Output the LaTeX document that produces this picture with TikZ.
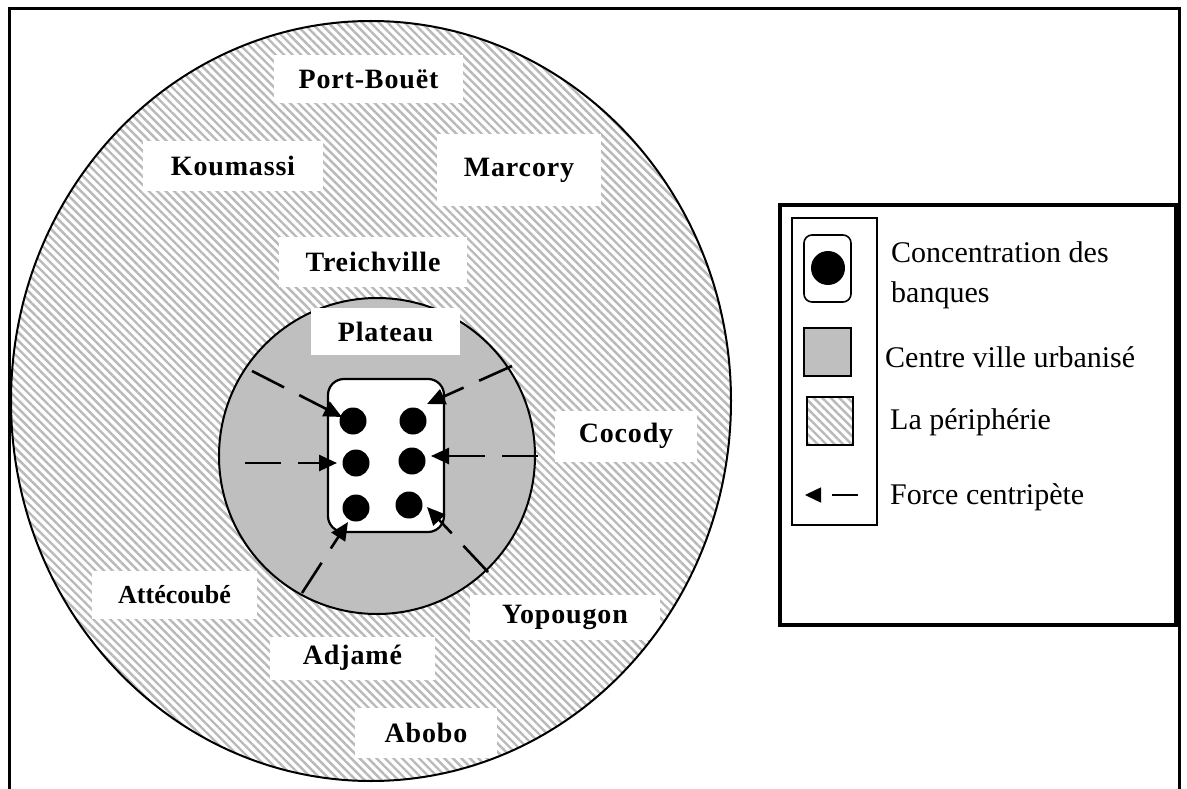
\documentclass[tikz,border=0pt]{standalone}
\usepackage{fontspec}
\setmainfont{Liberation Serif}
\usetikzlibrary{patterns.meta,arrows.meta}
\begin{document}
\begin{tikzpicture}[x=1pt,y=-1pt,
  hatch/.style={pattern={Lines[angle=-45,distance=6pt,line width=2.4pt]},pattern color=gray!55},
  lbl/.style={fill=white,inner sep=0pt,font=\bfseries\fontsize{28}{30}\selectfont\addfontfeature{LetterSpace=3}},
  lblc/.style={fill=white,inner sep=0pt,font=\bfseries\fontsize{26}{30}\selectfont},
  force/.style={line width=2.6pt,dash pattern=on 36pt off 17pt,-{Triangle[length=18pt,width=16pt]}},
  bank/.style={circle,fill=black,minimum size=27pt,inner sep=0pt},
  legtxt/.style={anchor=west,inner sep=0pt,align=left,font=\fontsize{30}{40}\selectfont}]
\useasboundingbox (0,0) rectangle (1187,789);
% outer frame
\draw[line width=3pt] (9,9) rectangle (1179,820);
% periphery
\path[hatch] (371,401) ellipse [x radius=360, y radius=380];
\begin{scope}
\clip (371,401) ellipse [x radius=360, y radius=380];
\node[lbl,minimum width=189pt,minimum height=48pt] (portbouet) at (368.5,79) {Port-Bouët};
\node[lbl,minimum width=180pt,minimum height=50pt] (koumassi) at (233,166) {Koumassi};
\node[lbl,minimum width=164pt,minimum height=72pt] (marcory) at (519,170) {Marcory};
\node[lbl,minimum width=188pt,minimum height=50pt] (treichville) at (373,262) {Treichville};
\node[lbl,minimum width=142pt,minimum height=51pt] (cocody) at (626,436) {Cocody};
\node[lblc,minimum width=165pt,minimum height=48pt] (attecoube) at (174.5,595) {Attécoubé};
\node[lbl,minimum width=190pt,minimum height=45pt] (yopougon) at (565,617) {Yopougon};
\node[lbl,minimum width=165pt,minimum height=43pt] (adjame) at (352.5,658) {Adjamé};
\node[lbl,minimum width=142pt,minimum height=50pt] (abobo) at (426,733) {Abobo};
\end{scope}
\draw[line width=2pt] (371,401) ellipse [x radius=360, y radius=380];
% centre ville
\draw[line width=2pt,fill=gray!50] (377,456) circle [radius=158];
\node[lbl,minimum width=149pt,minimum height=47pt] (plateau) at (385.5,331.5) {Plateau};
% concentration des banques
\draw[line width=2.2pt,fill=white,rounded corners=16pt] (328,379) rectangle (444,532);
\node[bank] (b1) at (353,421) {};
\node[bank] (b2) at (413,421) {};
\node[bank] (b3) at (356,463) {};
\node[bank] (b4) at (412,461) {};
\node[bank] (b5) at (356,508) {};
\node[bank] (b6) at (409,505) {};
% forces
\coordinate (s1) at (252,371); \coordinate (t1) at (342,417);
\coordinate (s2) at (512,366); \coordinate (t2) at (427,404);
\coordinate (s3) at (245,463); \coordinate (t3) at (337,463);
\coordinate (s4) at (538,456); \coordinate (t4) at (431,456);
\coordinate (s5) at (488,572); \coordinate (t5) at (427,507);
\coordinate (s6) at (302,593); \coordinate (t6) at (348,522);
\foreach \i in {1,...,6} \draw[force] (s\i) -- (t\i);
% legend
\draw[line width=3.2pt] (780,205) rectangle (1176,625);
\draw[line width=1.6pt] (792,218) rectangle (877,525);
\draw[line width=1.6pt,rounded corners=8pt] (804,235) rectangle (851,302);
\node[bank,minimum size=34pt] (legdot) at (828,268) {};
\draw[line width=1.6pt,fill=gray!50] (804,328) rectangle (851,376);
\draw[line width=1.6pt,hatch] (807,397) rectangle (853,445);
\coordinate (la) at (858,495); \coordinate (lb) at (805,495);
\draw[line width=1.6pt,dash pattern=on 26pt off 12pt,-{Triangle[length=16pt,width=15pt]}] (la) -- (lb);
\node[legtxt] (lt1) at (891,275) {Concentration des\\banques};
\node[legtxt] (lt2) at (885,357) {Centre ville urbanisé};
\node[legtxt] (lt3) at (890,422) {La périphérie};
\node[legtxt] (lt4) at (890,497) {Force centripète};
\end{tikzpicture}
\end{document}
